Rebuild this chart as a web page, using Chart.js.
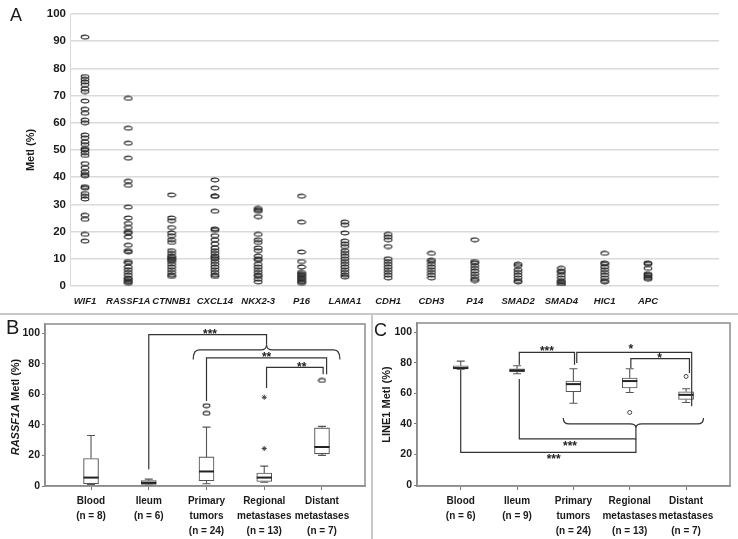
<!DOCTYPE html>
<html>
<head>
<meta charset="utf-8">
<script src="https://cdn.jsdelivr.net/npm/chart.js@4.4.1/dist/chart.umd.min.js"></script>
<style>
html, body { margin: 0; padding: 0; background: #fff; }
#wrap { position: relative; width: 738px; height: 539px; overflow: hidden; font-family: 'Liberation Sans', Arial, sans-serif; color: #1a1a1a; }
canvas { position: absolute; }
.panel { position: absolute; font-size: 18px; }
.ytitle { position: absolute; transform: translate(-50%, -50%) rotate(-90deg); white-space: nowrap; font-weight: bold; font-size: 11px; }
</style>
</head>
<body>
<div id="wrap">
  <canvas id="chartA" width="738" height="312" style="left:0;top:0"></canvas>
  <canvas id="chartB" width="371" height="225" style="left:0;top:314px"></canvas>
  <canvas id="chartC" width="364" height="225" style="left:374px;top:314px"></canvas>
  <div style="position:absolute;left:0;top:313px;width:738px;border-top:2px solid #c8c8c8"></div>
  <div style="position:absolute;left:371px;top:314px;height:225px;border-left:2px solid #c8c8c8"></div>
  <div class="panel" style="left:10px;top:5px">A</div>
  <div class="panel" style="left:6px;top:316px;font-size:20px">B</div>
  <div class="panel" style="left:374px;top:320px">C</div>
  <div class="ytitle" style="left:15px;top:407px"><i>RASSF1A</i> Metl (%)</div>
</div>
<script>
Chart.defaults.font.family = "'Liberation Sans', Arial, sans-serif";
Chart.defaults.color = '#1a1a1a';
Chart.defaults.animation = false;
Chart.defaults.events = [];
Chart.defaults.plugins.legend.display = false;
Chart.defaults.plugins.tooltip.enabled = false;

// Panel A: methylation per gene
const genes = ['WIF1', 'RASSF1A', 'CTNNB1', 'CXCL14', 'NKX2-3', 'P16', 'LAMA1', 'CDH1', 'CDH3', 'P14', 'SMAD2', 'SMAD4', 'HIC1', 'APC'];
const wif1 = [91.5, 77, 76, 75, 74, 72.5, 71.5, 68, 65, 63.5, 61, 60, 55.5, 54.5, 53, 52, 50.5, 50, 49, 48, 45, 43.5, 42, 41, 40.5, 36.5, 36, 34, 33, 32, 26, 24.5, 19, 16.5];
const rassf1a = [69, 58, 52.5, 47, 38.5, 37, 29, 25, 23, 21.5, 20, 19.5, 18, 15, 13, 12.5, 9, 8.5, 7, 6, 5, 4, 3, 2.5, 2, 1.5, 1];
const ctnnb1 = [33.5, 25, 24, 21.5, 19.5, 18.5, 17, 16, 13, 12, 11, 10.5, 10, 9.5, 9, 8, 7, 6, 5, 4, 3.5];
const cxcl14 = [39, 36, 33, 33, 27.5, 21, 20.5, 18.5, 17, 15.5, 14, 13, 12, 11, 10.5, 10, 9, 8, 7, 6, 5, 4, 3.5];
const nkx23 = [28.5, 28, 27.5, 25.5, 19, 17, 16, 14, 13, 11, 10, 9.5, 8, 7, 6, 5, 4, 3.5, 2.5, 1.5];
const p16 = [33, 23.5, 12.5, 9, 7, 5, 4.5, 4, 3.5, 3, 2.5, 2, 1.5, 1];
const lama1 = [23.5, 22.5, 19.5, 16.5, 15.5, 14.5, 13, 12, 11, 10, 9, 8, 7, 6, 5, 4, 3.3];
const cdh1 = [19, 18, 17, 14.5, 10, 9, 8, 7, 6, 5, 4, 3];
const cdh3 = [12, 9.5, 9, 8, 7, 6, 5, 4, 3];
const p14 = [17, 9, 8.5, 7.5, 6.5, 5.5, 4.5, 3.5, 2.5, 2];
const smad2 = [8, 7.5, 6, 5, 4, 3, 2, 1.5];
const smad4 = [6.5, 5.5, 5, 4, 3, 2, 1.5, 1, 0.5];
const hic1 = [12, 8.5, 8, 7, 6, 5, 4, 3, 2, 1.5];
const apc = [8.5, 8, 6.5, 4.5, 4, 3.5, 3, 2.5];
const geneValues = [wif1, rassf1a, ctnnb1, cxcl14, nkx23, p16, lama1, cdh1, cdh3, p14, smad2, smad4, hic1, apc];

// Panel B: RASSF1A box plots
const groupsB = [['Blood', '(n = 8)'], ['Ileum', '(n = 6)'], ['Primary', 'tumors', '(n = 24)'], ['Regional', 'metastases', '(n = 13)'], ['Distant', 'metastases', '(n = 7)']];
const bMin = [1, 0.5, 1.5, 2.5, 20];
const bQ1 = [1.5, 1, 3.5, 3, 21];
const bMed = [5.5, 2, 9.5, 5.5, 25.5];
const bQ3 = [18, 3.5, 19, 8.5, 38];
const bMax = [33, 4.5, 38.5, 13, 39];
const bOutGroup = [2, 2, 4];
const bOutValue = [52.5, 47.5, 69];
const bStarGroup = [3, 3];
const bStarValue = [58, 24.5];

// Panel C: LINE1 box plots
const groupsC = [['Blood', '(n = 6)'], ['Ileum', '(n = 9)'], ['Primary', 'tumors', '(n = 24)'], ['Regional', 'metastases', '(n = 13)'], ['Distant', 'metastases', '(n = 7)']];
const cMin = [75.8, 72.8, 53.5, 60.5, 54];
const cQ1 = [76, 74, 61, 63.5, 56];
const cMed = [76.5, 75, 66, 68, 59];
const cQ3 = [78, 76, 68, 70, 61];
const cMax = [81, 78, 76, 76, 63];
const cOutGroup = [3, 4];
const cOutValue = [47.5, 71];

const ticksA = [0, 10, 20, 30, 40, 50, 60, 70, 80, 90, 100];
const ticksBC = [0, 20, 40, 60, 80, 100];

// significance brackets (group index, value)
const notesB = {
  lines: [
    [[1, 11], [1, 99], [3.04, 99], [3.04, 92.4]],
    [[2, 55.5], [2, 83.8], [4.08, 83.8], [4.08, 73]],
    [[3.04, 64], [3.04, 77.5], [4.02, 77.5], [4.02, 73]]
  ],
  braces: [{ x0: 1.77, x1: 4.31, tip: 3.04, arm: 89, end: 82.7, tipY: 92.4 }],
  texts: [['***', 2.06, 101.5], ['**', 3.04, 86], ['**', 3.65, 79.5]]
};
const notesC = {
  lines: [
    [[1.04, 78.7], [1.04, 86.7], [2.02, 86.7], [2.02, 78.7]],
    [[2.06, 79.8], [2.06, 86.7], [4.1, 86.7], [4.1, 51.5]],
    [[3.02, 76.5], [3.02, 82.6], [4.06, 82.6], [4.06, 73.3]],
    [[1.04, 69.3], [1.04, 30.2], [3.11, 30.2], [3.11, 37.4]],
    [[0, 75.4], [0, 21.5], [3.11, 21.5], [3.11, 30.2]]
  ],
  braces: [{ x0: 1.82, x1: 4.31, tip: 3.11, arm: 40, end: 43.9, tipY: 37.4 }],
  texts: [['***', 1.53, 89.5], ['*', 3.02, 91], ['*', 3.53, 85], ['***', 1.94, 27.6], ['***', 1.65, 19.3]]
};

function ring(w, h, lw, color) {
  const c = document.createElement('canvas');
  c.width = w; c.height = h;
  const g = c.getContext('2d');
  g.strokeStyle = color; g.lineWidth = lw;
  g.beginPath();
  g.ellipse(w / 2, h / 2, w / 2 - lw, h / 2 - lw, 0, 0, Math.PI * 2);
  g.stroke();
  return c;
}
const ringA = ring(10, 6, 1.1, '#2a2a2a');
const ringB = ring(9, 6, 1.1, '#333');

// ---------- Panel A ----------
new Chart(document.getElementById('chartA'), {
  type: 'scatter',
  data: {
    datasets: genes.map((g, i) => ({
      label: g,
      data: geneValues[i].map(v => ({ x: i + 1, y: v })),
      pointStyle: ringA,
      pointRadius: 4
    }))
  },
  options: {
    responsive: false,
    layout: { padding: { left: 18, top: 14, right: 19, bottom: 0 } },
    scales: {
      x: {
        type: 'linear', min: 0.654, max: 15.64,
        afterBuildTicks: s => { s.ticks = genes.map((g, i) => ({ value: i + 1 })); },
        afterFit: s => { s.height = 26; },
        ticks: { callback: (v, i) => genes[i], autoSkip: false, maxRotation: 0, padding: 10,
                 font: { size: 9.5, weight: 'bold', style: 'italic' } },
        grid: { display: false, drawTicks: false },
        border: { display: false }
      },
      y: {
        min: 0, max: 100,
        afterBuildTicks: s => { s.ticks = ticksA.map(v => ({ value: v })); },
        afterFit: s => { s.width = 52; },
        ticks: { font: { size: 11.5, weight: 'bold' }, padding: 4 },
        grid: { color: '#dadada', lineWidth: 1.5, drawTicks: false },
        border: { color: '#dadada' },
        title: { display: true, text: 'Metl (%)', font: { size: 11, weight: 'bold' }, padding: { top: 6, bottom: 0 } }
      }
    }
  }
});

// ---------- box plot helper ----------
function boxExtras(mins, q1s, meds, q3s, maxs, notes) {
  return {
    id: 'boxExtras',
    afterDatasetsDraw(chart) {
      const { ctx, scales: { x, y } } = chart;
      ctx.save();
      ctx.strokeStyle = '#555';
      ctx.lineWidth = 1.1;
      mins.forEach((m, i) => {
        const px = x.getPixelForValue(i);
        ctx.beginPath();
        ctx.moveTo(px, y.getPixelForValue(maxs[i])); ctx.lineTo(px, y.getPixelForValue(q3s[i]));
        ctx.moveTo(px, y.getPixelForValue(q1s[i])); ctx.lineTo(px, y.getPixelForValue(m));
        ctx.moveTo(px - 4, y.getPixelForValue(maxs[i])); ctx.lineTo(px + 4, y.getPixelForValue(maxs[i]));
        ctx.moveTo(px - 4, y.getPixelForValue(m)); ctx.lineTo(px + 4, y.getPixelForValue(m));
        ctx.stroke();
      });
      ctx.strokeStyle = '#222';
      ctx.lineWidth = 2;
      meds.forEach((m, i) => {
        const px = x.getPixelForValue(i);
        ctx.beginPath();
        ctx.moveTo(px - 7.5, y.getPixelForValue(m)); ctx.lineTo(px + 7.5, y.getPixelForValue(m));
        ctx.stroke();
      });
      // brackets
      ctx.strokeStyle = '#333';
      ctx.lineWidth = 1.2;
      notes.lines.forEach(pts => {
        ctx.beginPath();
        pts.forEach((p, k) => {
          const X = x.getPixelForValue(p[0]), Y = y.getPixelForValue(p[1]);
          if (k === 0) ctx.moveTo(X, Y); else ctx.lineTo(X, Y);
        });
        ctx.stroke();
      });
      notes.braces.forEach(b => {
        const x0 = x.getPixelForValue(b.x0), x1 = x.getPixelForValue(b.x1), xt = x.getPixelForValue(b.tip);
        const ya = y.getPixelForValue(b.arm), ye = y.getPixelForValue(b.end), yt = y.getPixelForValue(b.tipY);
        const r = 6;
        ctx.beginPath();
        ctx.moveTo(x0, ye);
        ctx.quadraticCurveTo(x0, ya, x0 + r, ya);
        ctx.lineTo(xt - r, ya);
        ctx.quadraticCurveTo(xt, ya, xt, yt);
        ctx.quadraticCurveTo(xt, ya, xt + r, ya);
        ctx.lineTo(x1 - r, ya);
        ctx.quadraticCurveTo(x1, ya, x1, ye);
        ctx.stroke();
      });
      ctx.fillStyle = '#222';
      ctx.font = "bold 12px 'Liberation Sans', Arial, sans-serif";
      ctx.textAlign = 'center';
      ctx.textBaseline = 'alphabetic';
      notes.texts.forEach(t => {
        ctx.fillText(t[0], x.getPixelForValue(t[1]), y.getPixelForValue(t[2]) + 7);
      });
      ctx.restore();
    },
    afterDraw(chart) {
      const { ctx, chartArea: a } = chart;
      ctx.save();
      ctx.strokeStyle = '#8c8c8c';
      ctx.lineWidth = 1.5;
      ctx.strokeRect(a.left, a.top, a.right - a.left, a.bottom - a.top);
      ctx.restore();
    }
  };
}

function boxChart(id, groups, mins, q1s, meds, q3s, maxs, outGroup, outValue, extra, xr, yr, title, notes) {
  const datasets = [
    {
      type: 'bar',
      data: q1s.map((q, i) => ({ x: i, y: [q, q3s[i]] })),
      backgroundColor: '#fff',
      borderColor: '#555',
      borderWidth: 1.1,
      borderSkipped: false,
      barThickness: 15
    },
    {
      type: 'scatter',
      data: outGroup.map((g, i) => ({ x: g, y: outValue[i] })),
      pointStyle: extra.ring || 'circle',
      pointRadius: 2,
      borderColor: '#444',
      borderWidth: 1,
      backgroundColor: '#fff'
    }
  ];
  if (extra.starGroup) {
    datasets.push({
      type: 'scatter',
      data: extra.starGroup.map((g, i) => ({ x: g, y: extra.starValue[i] })),
      pointStyle: 'star',
      pointRadius: 2.5,
      borderColor: '#444',
      borderWidth: 1
    });
  }
  new Chart(document.getElementById(id), {
    type: 'scatter',
    data: { datasets },
    options: {
      responsive: false,
      layout: { padding: { left: 0, top: extra.top, right: extra.right, bottom: 0 } },
      scales: {
        x: {
          type: 'linear', min: xr[0], max: xr[1], offset: false, bounds: 'data', grace: 0,
          afterBuildTicks: s => { s.ticks = groups.map((g, i) => ({ value: i })); },
          afterFit: s => { s.height = 53; },
          ticks: { callback: (v, i) => groups[i], autoSkip: false, maxRotation: 0, padding: 4,
                   font: { size: 10, weight: 'bold', lineHeight: 1.5 } },
          grid: { drawOnChartArea: false, tickLength: 4, color: '#777', offset: false },
          border: { color: '#8c8c8c', width: 1.5 }
        },
        y: {
          min: yr[0], max: yr[1],
          afterBuildTicks: s => { s.ticks = ticksBC.map(v => ({ value: v })); },
          afterFit: s => { s.width = extra.yWidth; },
          ticks: { font: { size: 10.5, weight: 'bold' }, padding: 2 },
          grid: { drawOnChartArea: false, tickLength: 3, color: '#777' },
          border: { color: '#8c8c8c', width: 1.5 },
          title: { display: !!title, text: title, font: { size: 11, weight: 'bold' }, padding: { top: 6, bottom: 0 } }
        }
      }
    },
    plugins: [boxExtras(mins, q1s, meds, q3s, maxs, notes)]
  });
}

boxChart('chartB', groupsB, bMin, bQ1, bMed, bQ3, bMax, bOutGroup, bOutValue,
  { ring: ringB, starGroup: bStarGroup, starValue: bStarValue, top: 10, right: 6, yWidth: 45 },
  [-0.797, 4.745], [0, 105.9], '', notesB);

boxChart('chartC', groupsC, cMin, cQ1, cMed, cQ3, cMax, cOutGroup, cOutValue,
  { top: 9, right: 8, yWidth: 43 },
  [-0.776, 4.78], [-0.5, 105.9], 'LINE1 Metl (%)', notesC);
</script>
</body>
</html>
